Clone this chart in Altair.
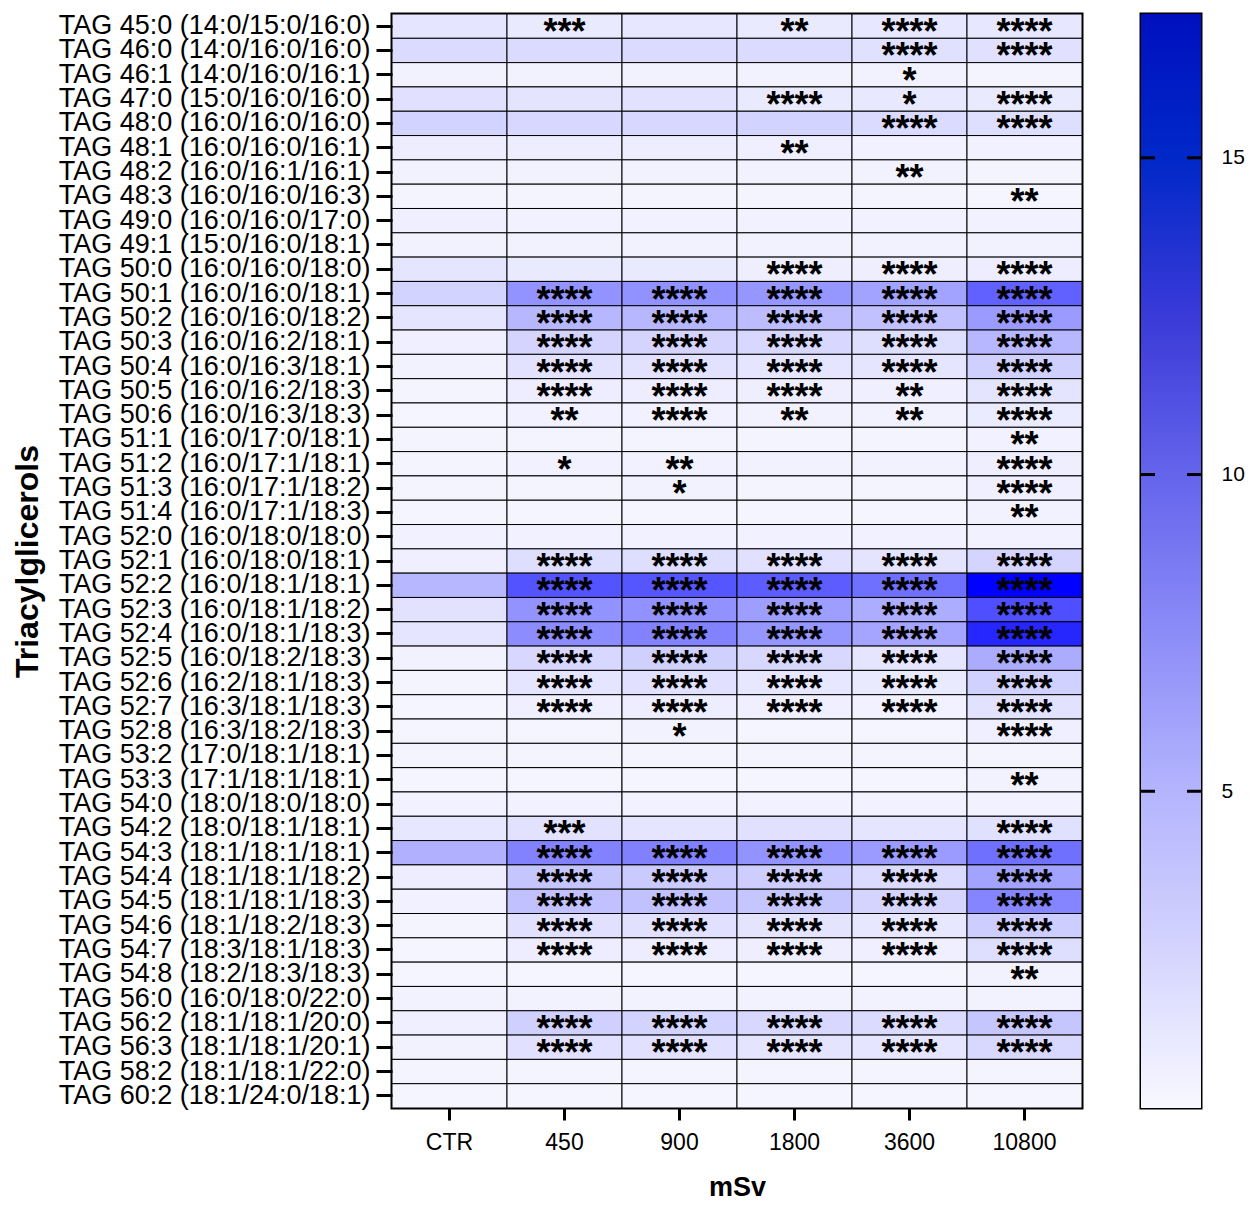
import altair as alt
import pandas as pd

tags = [
    "TAG 45:0 (14:0/15:0/16:0)", "TAG 46:0 (14:0/16:0/16:0)", "TAG 46:1 (14:0/16:0/16:1)",
    "TAG 47:0 (15:0/16:0/16:0)", "TAG 48:0 (16:0/16:0/16:0)", "TAG 48:1 (16:0/16:0/16:1)",
    "TAG 48:2 (16:0/16:1/16:1)", "TAG 48:3 (16:0/16:0/16:3)", "TAG 49:0 (16:0/16:0/17:0)",
    "TAG 49:1 (15:0/16:0/18:1)", "TAG 50:0 (16:0/16:0/18:0)", "TAG 50:1 (16:0/16:0/18:1)",
    "TAG 50:2 (16:0/16:0/18:2)", "TAG 50:3 (16:0/16:2/18:1)", "TAG 50:4 (16:0/16:3/18:1)",
    "TAG 50:5 (16:0/16:2/18:3)", "TAG 50:6 (16:0/16:3/18:3)", "TAG 51:1 (16:0/17:0/18:1)",
    "TAG 51:2 (16:0/17:1/18:1)", "TAG 51:3 (16:0/17:1/18:2)", "TAG 51:4 (16:0/17:1/18:3)",
    "TAG 52:0 (16:0/18:0/18:0)", "TAG 52:1 (16:0/18:0/18:1)", "TAG 52:2 (16:0/18:1/18:1)",
    "TAG 52:3 (16:0/18:1/18:2)", "TAG 52:4 (16:0/18:1/18:3)", "TAG 52:5 (16:0/18:2/18:3)",
    "TAG 52:6 (16:2/18:1/18:3)", "TAG 52:7 (16:3/18:1/18:3)", "TAG 52:8 (16:3/18:2/18:3)",
    "TAG 53:2 (17:0/18:1/18:1)", "TAG 53:3 (17:1/18:1/18:1)", "TAG 54:0 (18:0/18:0/18:0)",
    "TAG 54:2 (18:0/18:1/18:1)", "TAG 54:3 (18:1/18:1/18:1)", "TAG 54:4 (18:1/18:1/18:2)",
    "TAG 54:5 (18:1/18:1/18:3)", "TAG 54:6 (18:1/18:2/18:3)", "TAG 54:7 (18:3/18:1/18:3)",
    "TAG 54:8 (18:2/18:3/18:3)", "TAG 56:0 (16:0/18:0/22:0)", "TAG 56:2 (18:1/18:1/20:0)",
    "TAG 56:3 (18:1/18:1/20:1)", "TAG 58:2 (18:1/18:1/22:0)", "TAG 60:2 (18:1/24:0/18:1)",
]

doses = ["CTR", "450", "900", "1800", "3600", "10800"]

values = [
    [1.3, 1.0, 1.2, 1.0, 1.2, 1.2],
    [2.0, 2.0, 2.0, 2.0, 1.7, 1.6],
    [0.4, 0.4, 0.4, 0.4, 0.4, 0.3],
    [1.6, 1.4, 1.5, 1.0, 1.1, 1.0],
    [2.6, 2.3, 2.3, 2.6, 2.0, 1.8],
    [0.8, 0.8, 0.8, 0.6, 0.5, 0.5],
    [0.4, 0.4, 0.4, 0.4, 0.4, 0.3],
    [0.3, 0.3, 0.3, 0.3, 0.3, 0.2],
    [0.6, 0.5, 0.5, 0.5, 0.5, 0.5],
    [0.4, 0.4, 0.4, 0.4, 0.4, 0.4],
    [1.3, 1.0, 1.0, 0.7, 0.7, 0.8],
    [2.6, 7.0, 7.2, 6.8, 6.0, 10.5],
    [1.3, 4.5, 4.5, 4.2, 3.8, 6.5],
    [0.6, 2.5, 2.5, 2.3, 1.8, 4.5],
    [0.4, 1.5, 1.5, 1.3, 1.3, 2.8],
    [0.3, 0.8, 0.8, 0.7, 0.6, 1.4],
    [0.2, 0.5, 0.5, 0.4, 0.4, 0.9],
    [0.3, 0.3, 0.3, 0.3, 0.3, 0.5],
    [0.3, 0.5, 0.5, 0.4, 0.4, 0.7],
    [0.3, 0.3, 0.4, 0.3, 0.3, 0.6],
    [0.2, 0.2, 0.2, 0.2, 0.2, 0.4],
    [0.5, 0.5, 0.5, 0.5, 0.5, 0.5],
    [0.6, 1.8, 1.8, 1.6, 1.4, 2.5],
    [4.5, 11.5, 11.3, 10.8, 9.5, 17.2],
    [1.5, 7.0, 7.2, 6.3, 5.2, 11.8],
    [1.3, 7.5, 8.2, 6.8, 5.8, 14.6],
    [0.4, 2.3, 2.8, 2.2, 1.3, 5.3],
    [0.3, 1.3, 1.6, 1.2, 1.0, 2.7],
    [0.2, 0.6, 0.8, 0.6, 0.5, 1.5],
    [0.2, 0.2, 0.4, 0.2, 0.2, 0.6],
    [0.3, 0.3, 0.3, 0.3, 0.3, 0.3],
    [0.2, 0.2, 0.2, 0.2, 0.2, 0.4],
    [0.5, 0.5, 0.5, 0.5, 0.5, 0.5],
    [1.2, 1.5, 1.3, 1.6, 1.3, 1.7],
    [5.0, 8.2, 8.3, 7.0, 6.5, 9.5],
    [0.8, 3.5, 3.2, 3.0, 2.0, 6.0],
    [0.5, 3.8, 3.8, 3.5, 2.5, 8.0],
    [0.3, 1.6, 1.6, 1.4, 1.2, 3.0],
    [0.2, 0.8, 0.8, 0.7, 0.6, 1.8],
    [0.2, 0.2, 0.2, 0.2, 0.2, 0.4],
    [0.4, 0.4, 0.4, 0.4, 0.4, 0.4],
    [0.6, 2.8, 2.6, 2.3, 2.0, 3.5],
    [0.4, 1.6, 1.6, 1.4, 1.3, 2.2],
    [0.3, 0.3, 0.3, 0.3, 0.3, 0.3],
    [0.2, 0.2, 0.2, 0.2, 0.2, 0.2],
]

F = "****"
stars = [
    ["", "***", "", "**", F, F],
    ["", "", "", "", F, F],
    ["", "", "", "", "*", ""],
    ["", "", "", F, "*", F],
    ["", "", "", "", F, F],
    ["", "", "", "**", "", ""],
    ["", "", "", "", "**", ""],
    ["", "", "", "", "", "**"],
    ["", "", "", "", "", ""],
    ["", "", "", "", "", ""],
    ["", "", "", F, F, F],
    ["", F, F, F, F, F],
    ["", F, F, F, F, F],
    ["", F, F, F, F, F],
    ["", F, F, F, F, F],
    ["", F, F, F, "**", F],
    ["", "**", F, "**", "**", F],
    ["", "", "", "", "", "**"],
    ["", "*", "**", "", "", F],
    ["", "", "*", "", "", F],
    ["", "", "", "", "", "**"],
    ["", "", "", "", "", ""],
    ["", F, F, F, F, F],
    ["", F, F, F, F, F],
    ["", F, F, F, F, F],
    ["", F, F, F, F, F],
    ["", F, F, F, F, F],
    ["", F, F, F, F, F],
    ["", F, F, F, F, F],
    ["", "", "*", "", "", F],
    ["", "", "", "", "", ""],
    ["", "", "", "", "", "**"],
    ["", "", "", "", "", ""],
    ["", "***", "", "", "", F],
    ["", F, F, F, F, F],
    ["", F, F, F, F, F],
    ["", F, F, F, F, F],
    ["", F, F, F, F, F],
    ["", F, F, F, F, F],
    ["", "", "", "", "", "**"],
    ["", "", "", "", "", ""],
    ["", F, F, F, F, F],
    ["", F, F, F, F, F],
    ["", "", "", "", "", ""],
    ["", "", "", "", "", ""],
]

color_max = 17.27
colorbar_ticks = [5, 10, 15]
bar_colors = ["#f8f8ff", "#d4d4fe", "#b4b4fe", "#8c8cf8", "#6464ec", "#3a3ad8", "#0028c8", "#0010c0"]
bar_offsets = [0.0, 2.5, 5.0, 7.5, 10.0, 12.5, 15.0, color_max]

rows = []
for i, t in enumerate(tags):
    for j, d in enumerate(doses):
        rows.append({"tag": t, "dose": d, "value": values[i][j], "stars": stars[i][j]})
df = pd.DataFrame(rows)

FONT = "Liberation Sans"

x_enc = alt.X(
    "dose:N", sort=doses,
    scale=alt.Scale(paddingInner=0, paddingOuter=0),
    axis=alt.Axis(
        title="mSv", labelAngle=0, labelFontSize=23, labelFont=FONT,
        labelColor="black", tickSize=12, tickWidth=3, tickColor="black", domain=False,
        labelPadding=11, titleFontSize=27, titleFontWeight="bold", titleFont=FONT,
        titlePadding=20, titleColor="black",
    ),
)
y_enc = alt.Y(
    "tag:N", sort=tags,
    scale=alt.Scale(paddingInner=0, paddingOuter=0),
    axis=alt.Axis(
        title="Triacylglicerols", labelFontSize=27, labelFont=FONT, labelColor="black",
        labelLimit=500, tickSize=16, tickWidth=3, tickColor="black", domain=False, labelPadding=6,
        titleFontSize=32, titleFontWeight="bold", titleFont=FONT, titleColor="black",
        titleX=-365, titleY=547, titleAngle=270, titleAlign="center", titleBaseline="middle",
    ),
)

rect = alt.Chart(df).mark_rect(stroke="black", strokeWidth=1).encode(
    x=x_enc,
    y=y_enc,
    color=alt.Color(
        "value:Q",
        scale=alt.Scale(domain=[0, color_max], range=["#f8f8ff", "#0000ff"], interpolate="rgb"),
        legend=None,
    ),
)
text = alt.Chart(df).mark_text(
    fontSize=36, font=FONT, fontWeight="bold", color="black", baseline="middle", dy=7
).encode(
    x=alt.X("dose:N", sort=doses),
    y=alt.Y("tag:N", sort=tags),
    text="stars:N",
)
heat = alt.layer(rect, text).properties(width=690, height=1094)

cb_df = pd.DataFrame({"lo": [0.0], "hi": [color_max]})
gradient = alt.Gradient(
    gradient="linear",
    stops=[alt.GradientStop(offset=o / color_max, color=c) for o, c in zip(bar_offsets, bar_colors)],
    x1=0, x2=0, y1=1, y2=0,
)
cb_y = alt.Y(
    "lo:Q",
    scale=alt.Scale(domain=[0, color_max], nice=False, zero=True),
    axis=alt.Axis(
        orient="right", values=colorbar_ticks, format="d", ticks=False, domain=False, grid=False,
        labelFontSize=21, labelFont=FONT, labelColor="black", labelPadding=20, title=None,
    ),
)
bar = alt.Chart(cb_df).mark_rect(fill=gradient).encode(
    y=cb_y, y2="hi:Q", x=alt.value(0), x2=alt.value(60)
)
ticks_df = pd.DataFrame({"v": colorbar_ticks})
tick_l = alt.Chart(ticks_df).mark_rule(color="black", strokeWidth=3).encode(
    y=alt.Y("v:Q"), x=alt.value(0), x2=alt.value(14)
)
tick_r = alt.Chart(ticks_df).mark_rule(color="black", strokeWidth=3).encode(
    y=alt.Y("v:Q"), x=alt.value(46), x2=alt.value(60)
)
cbar = alt.layer(bar, tick_l, tick_r).properties(width=60, height=1094)

chart = (
    alt.hconcat(heat, cbar, spacing=54)
    .properties(padding={"left": 9, "top": 10, "right": 2, "bottom": 5}, background="white")
    .configure_view(stroke="black", strokeWidth=3)
    .configure_concat(spacing=54)
)

chart.save("out.html", embed_options={"renderer": "svg", "actions": False})
